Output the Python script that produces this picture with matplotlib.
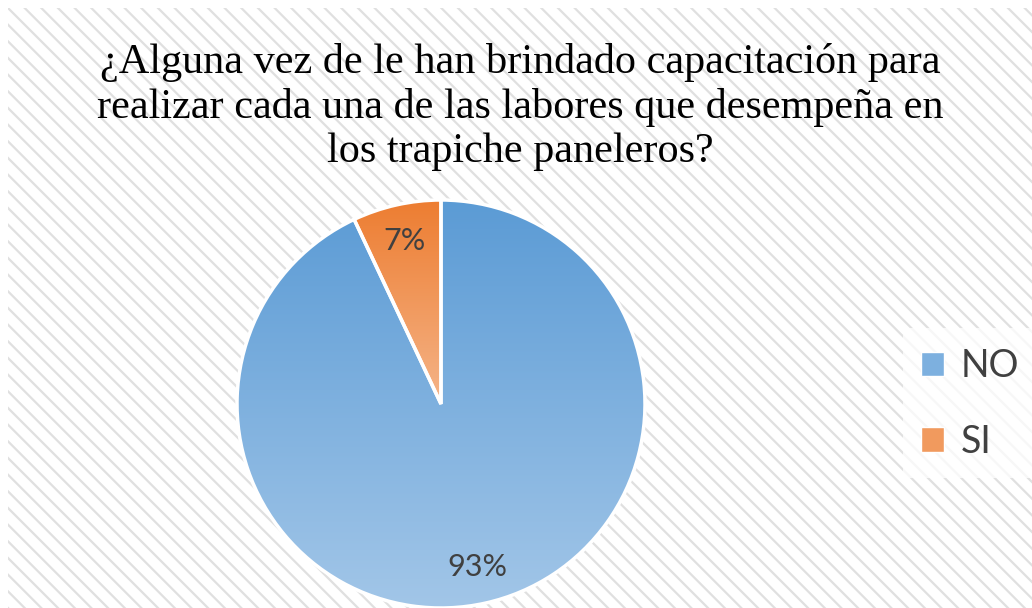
import numpy as np
import matplotlib
matplotlib.use("Agg")
import matplotlib.pyplot as plt
from matplotlib.patches import Rectangle, Patch
from matplotlib.colors import to_rgb

# data
categories = ["NO", "SI"]
values = [93, 7]
title = ("¿Alguna vez de le han brindado capacitación para\n"
         "realizar cada una de las labores que desempeña en\n"
         "los trapiche paneleros?")

# gradient colours (top, bottom) per slice
grad_colors = [("#5B9BD5", "#A2C6E8"), ("#ED7D31", "#F5B488")]
legend_colors = ["#7DB0DF", "#F19A5E"]

W, H = 1032, 608
fig = plt.figure(figsize=(W / 100, H / 100), dpi=100)
fig.patch.set_facecolor("white")

plt.rcParams["hatch.linewidth"] = 1.6
plt.rcParams["hatch.color"] = "#e0e0e0"

# hatched chart area background
bg = Rectangle((8 / W, 0), 1 - 8 / W, 1 - 8 / H, transform=fig.transFigure,
               facecolor="white", edgecolor="#e0e0e0", hatch="\\\\", linewidth=0,
               zorder=0)
fig.patches.append(bg)

# legend backing box
lbox = Rectangle((903 / W, 1 - 478 / H), (W - 903) / W, 150 / H,
                 transform=fig.transFigure, facecolor="white", alpha=0.75,
                 linewidth=0, zorder=1)
fig.patches.append(lbox)

fig.text(520 / W, 1 - 107 / H, title, ha="center", va="center",
         fontsize=30.4, family="Liberation Serif", color="black",
         linespacing=1.19, zorder=3)

# pie axes
r_px = 204
cx, cy = 441, 404
ax = fig.add_axes([(cx - r_px) / W, 1 - (cy + r_px) / H, 2 * r_px / W, 2 * r_px / H])
ax.set_zorder(2)
ax.set_facecolor("none")
ax.axis("off")

wedges, texts, autotexts = ax.pie(
    values, startangle=90, counterclock=False,
    autopct="%1.0f%%", pctdistance=0.82,
    wedgeprops=dict(edgecolor="white", linewidth=2.5),
    textprops=dict(fontsize=22, color="#404040", family="Lato"),
)

for w, (ctop, cbot) in zip(wedges, grad_colors):
    ext = w.get_path().get_extents()
    t = np.linspace(0, 1, 256)[:, None]
    grad = (1 - t) * np.array(to_rgb(ctop)) + t * np.array(to_rgb(cbot))
    grad = grad[:, None, :]
    im = ax.imshow(grad, extent=[ext.x0, ext.x1, ext.y0, ext.y1],
                   origin="upper", aspect="auto", zorder=1, interpolation="bilinear")
    im.set_clip_path(w)
    w.set_facecolor("none")
    w.set_zorder(2)

for t_ in autotexts:
    t_.set_zorder(3)

ax.set_xlim(-1, 1)
ax.set_ylim(-1, 1)

handles = [Patch(facecolor=c, edgecolor="white", linewidth=1) for c in legend_colors]
leg = fig.legend(handles, categories, loc="center left",
                 bbox_to_anchor=(921 / W, 1 - 404 / H), frameon=False,
                 prop=dict(family="Lato", size=27), labelcolor="#404040",
                 handlelength=0.62, handleheight=0.62, handletextpad=0.45,
                 labelspacing=1.05, borderpad=0, borderaxespad=0)
leg.set_zorder(3)

fig.savefig("out.png", dpi=100)
